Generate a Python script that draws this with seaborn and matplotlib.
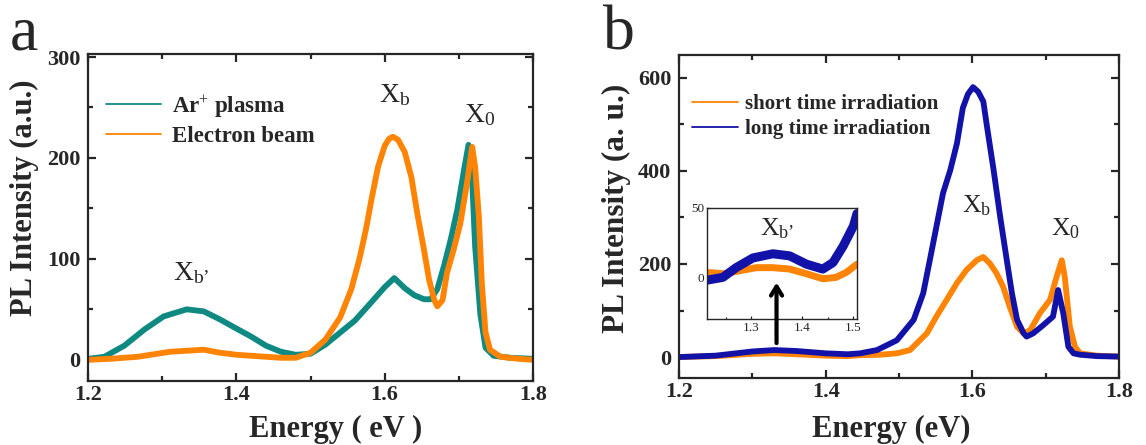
import matplotlib
matplotlib.use("Agg")
import matplotlib.pyplot as plt
import numpy as np
import pandas as pd
import seaborn as sns
from matplotlib.ticker import MultipleLocator, FixedLocator

# ---------------- data ----------------
# Panel a
energy_ar = [1.200, 1.222, 1.249, 1.276, 1.302, 1.333, 1.356, 1.378, 1.40, 1.42, 1.44, 1.46,
             1.48, 1.50, 1.52, 1.54, 1.56, 1.582, 1.60, 1.613, 1.627, 1.64, 1.653, 1.662,
             1.671, 1.680, 1.689, 1.698, 1.707, 1.713, 1.718, 1.722, 1.729, 1.736, 1.747,
             1.77, 1.80]
ar_plasma = [1, 3, 14, 30, 43, 50, 48, 40, 31, 23, 14, 8,
             5, 6, 15, 27, 39, 57, 72, 81, 71, 64, 60, 60,
             70, 93, 119, 149, 188, 213, 178, 112, 45, 12, 4,
             2, 1]
energy_eb = [1.200, 1.230, 1.267, 1.311, 1.356, 1.378, 1.40, 1.42, 1.44, 1.46, 1.48, 1.50,
             1.52, 1.54, 1.555, 1.566, 1.575, 1.582, 1.591, 1.600, 1.606, 1.611, 1.618,
             1.627, 1.636, 1.644, 1.653, 1.660, 1.667, 1.671, 1.678, 1.684, 1.693, 1.702,
             1.711, 1.718, 1.722, 1.727, 1.731, 1.736, 1.742, 1.756, 1.78, 1.80]
electron_beam = [0, 1, 3, 8, 10, 7, 5, 4, 3, 2, 2, 7,
                 20, 42, 70, 100, 130, 158, 191, 212, 219, 221, 218,
                 206, 181, 145, 109, 79, 59, 53, 59, 86, 109, 135,
                 175, 211, 191, 142, 76, 27, 10, 3, 1, 0]

# Panel b
energy_short = [1.20, 1.25, 1.30, 1.33, 1.36, 1.40, 1.43, 1.447, 1.474, 1.497, 1.515, 1.538,
                1.551, 1.565, 1.579, 1.592, 1.606, 1.615, 1.624, 1.633, 1.642, 1.651, 1.661,
                1.670, 1.679, 1.692, 1.706, 1.715, 1.722, 1.726, 1.733, 1.740, 1.747, 1.77, 1.80]
short_irr = [0, 2, 7, 8, 6, 3, 2, 4, 5, 8, 15, 51,
             87, 123, 159, 187, 208, 215, 201, 180, 151, 108, 65,
             51, 58, 94, 123, 173, 208, 173, 65, 22, 8, 3, 1]
energy_long = [1.20, 1.25, 1.30, 1.33, 1.36, 1.40, 1.43, 1.447, 1.470, 1.497, 1.520, 1.533,
               1.542, 1.551, 1.560, 1.570, 1.579, 1.587, 1.594, 1.601, 1.608, 1.615, 1.620,
               1.629, 1.638, 1.647, 1.654, 1.661, 1.670, 1.674, 1.683, 1.697, 1.710, 1.717,
               1.724, 1.731, 1.738, 1.747, 1.77, 1.80]
long_irr = [0, 3, 12, 15, 13, 8, 6, 8, 15, 36, 80, 137,
            208, 280, 352, 402, 459, 535, 565, 580, 570, 549, 495,
            402, 301, 208, 137, 80, 51, 44, 51, 69, 87, 144,
            94, 22, 8, 5, 2, 1]

# Inset of panel b (zoom of the X_b' region)
energy_inset_short = [1.213, 1.244, 1.277, 1.31, 1.342, 1.375, 1.408, 1.44, 1.466, 1.486, 1.507]
inset_short = [3.6, 2.6, 4.8, 7, 7, 6, 2.6, -1, 0, 3.6, 9.5]
energy_inset_long = [1.213, 1.244, 1.27, 1.303, 1.342, 1.375, 1.408, 1.44, 1.46, 1.48,
                     1.50, 1.507]
inset_long = [-2, 0, 7, 14, 17, 15.5, 9.5, 6, 10.7, 22.6, 37, 46]

labels_a = ["Ar$^{+}$ plasma", "Electron beam"]
labels_b = ["short time irradiation", "long time irradiation"]
xtick_vals = [1.2, 1.4, 1.6, 1.8]
ytick_a = [0, 100, 200, 300]
ytick_b = [0, 200, 400, 600]

TEAL = "#0f8a82"
ORANGE = "#ff8405"
BLUE = "#1212a8"

# ---------------- style ----------------
sns.set_style("ticks")
plt.rcParams["font.family"] = ["Liberation Serif", "DejaVu Serif"]
plt.rcParams["mathtext.fontset"] = "custom"
plt.rcParams["mathtext.rm"] = "Liberation Serif"
plt.rcParams["mathtext.it"] = "Liberation Serif:italic"
plt.rcParams["mathtext.bf"] = "Liberation Serif:bold"
plt.rcParams["axes.linewidth"] = 1.6

W, H = 1146, 445
fig = plt.figure(figsize=(W / 100, H / 100), dpi=100)


def fr(x0, y0, x1, y1):
    return [x0 / W, 1 - y1 / H, (x1 - x0) / W, (y1 - y0) / H]


ax_a = fig.add_axes(fr(88, 54, 533, 381))
ax_b = fig.add_axes(fr(679, 55, 1119, 378))
ax_in = fig.add_axes(fr(707, 208, 857, 319))

df_a1 = pd.DataFrame({"E": energy_ar, "I": ar_plasma})
df_a2 = pd.DataFrame({"E": energy_eb, "I": electron_beam})
df_b1 = pd.DataFrame({"E": energy_short, "I": short_irr})
df_b2 = pd.DataFrame({"E": energy_long, "I": long_irr})
df_i1 = pd.DataFrame({"E": energy_inset_short, "I": inset_short})
df_i2 = pd.DataFrame({"E": energy_inset_long, "I": inset_long})

LW = 4.2
line_kw = dict(errorbar=None, solid_joinstyle="round", solid_capstyle="round")
sns.lineplot(data=df_a1, x="E", y="I", ax=ax_a, color=TEAL, lw=LW, label=labels_a[0], **line_kw)
sns.lineplot(data=df_a2, x="E", y="I", ax=ax_a, color=ORANGE, lw=LW, label=labels_a[1], **line_kw)
sns.lineplot(data=df_b1, x="E", y="I", ax=ax_b, color=ORANGE, lw=LW, label=labels_b[0], **line_kw)
sns.lineplot(data=df_b2, x="E", y="I", ax=ax_b, color=BLUE, lw=LW, label=labels_b[1], **line_kw)
sns.lineplot(data=df_i1, x="E", y="I", ax=ax_in, color=ORANGE, lw=5.0, legend=False, **line_kw)
sns.lineplot(data=df_i2, x="E", y="I", ax=ax_in, color=BLUE, lw=6.5, legend=False, **line_kw)

tick_font = dict(family="Liberation Serif", weight="bold", size=16)

for ax, ylim, yt, ymin in [(ax_a, (-21, 303), ytick_a, 50), (ax_b, (-45, 649), ytick_b, 100)]:
    ax.set_xticks(xtick_vals, labels=[f"{v:.1f}" for v in xtick_vals], fontdict=tick_font)
    ax.set_yticks(yt, labels=[str(v) for v in yt], fontdict=tick_font)
    ax.xaxis.set_minor_locator(MultipleLocator(0.1))
    ax.yaxis.set_minor_locator(MultipleLocator(ymin))
    ax.set_xlim(1.2, 1.8)
    ax.set_ylim(*ylim)
    ax.tick_params(which="both", direction="in", top=True, right=True, width=1.6)
    ax.tick_params(which="major", length=6)
    ax.tick_params(which="minor", length=3.5)
    ax.tick_params(axis="x", which="major", pad=3)
    ax.tick_params(axis="y", which="major", pad=5.5)
    for s in ax.spines.values():
        s.set_visible(True)

lab_font = dict(family="Liberation Serif", weight="bold", size=22)
ax_a.set_xlabel("Energy ( eV )", fontdict=lab_font)
ax_a.set_ylabel("PL Intensity (a.u.)", fontdict=lab_font)
ax_b.set_xlabel("Energy (eV)", fontdict=lab_font)
ax_b.set_ylabel("PL Intensity (a. u.)", fontdict=dict(lab_font, size=22.5))
ax_a.xaxis.label.set_va("baseline")
ax_b.xaxis.label.set_va("baseline")
ax_a.xaxis.set_label_coords(0.557, -0.171)
ax_b.xaxis.set_label_coords(0.482, -0.183)
ax_a.yaxis.label.set_va("center")
ax_b.yaxis.label.set_va("center")
ax_a.yaxis.set_label_coords(-0.143, 0.560)
ax_b.yaxis.set_label_coords(-0.143, 0.526)

# inset axes
ax_in.set_xticks([1.3, 1.4, 1.5], labels=["1.3", "1.4", "1.5"])
ax_in.set_yticks([0, 50], labels=["0", "50"])
ax_in.xaxis.set_minor_locator(MultipleLocator(0.05))
ax_in.set_xlim(1.213, 1.507)
ax_in.set_ylim(-30, 50)
ax_in.tick_params(which="both", direction="in", length=2.5, width=0.9, pad=2,
                  labelsize=9.5)
ax_in.tick_params(which="minor", length=1.8)
ax_in.set_xlabel("")
ax_in.set_ylabel("")
for s in ax_in.spines.values():
    s.set_linewidth(1.0)
    s.set_visible(True)

# legends
leg_a = ax_a.legend(loc="upper left", bbox_to_anchor=(106 / W, 1 - 93 / H),
                    bbox_transform=fig.transFigure, frameon=False, borderpad=0,
                    borderaxespad=0, handlelength=2.4, handletextpad=0.5,
                    labelspacing=0.3,
                    prop=dict(family="Liberation Serif", weight="bold", size=16.5))
leg_b = ax_b.legend(loc="upper left", bbox_to_anchor=(692 / W, 1 - 94 / H),
                    bbox_transform=fig.transFigure, frameon=False, borderpad=0,
                    borderaxespad=0, handlelength=2.2, handletextpad=0.35,
                    labelspacing=0.25,
                    prop=dict(family="Liberation Serif", weight="bold", size=15))
for leg in (leg_a, leg_b):
    for h in leg.get_lines():
        h.set_linewidth(1.3)

# peak annotations
ann = dict(family="Liberation Serif", size=20, ha="center", va="baseline")
ax_a.text(1.614, 255, r"X$_\mathrm{b}$", **ann)
ax_a.text(1.728, 236, r"X$_\mathrm{0}$", **ann)
ax_a.text(1.339, 79, r"X$_\mathrm{b’}$", **ann)
ann_b = dict(ann, size=18.5)
ax_b.text(1.606, 310, r"X$_\mathrm{b}$", **ann_b)
ax_b.text(1.727, 262, r"X$_\mathrm{0}$", **ann_b)
ax_in.text(1.351, 30, r"X$_\mathrm{b’}$", **ann_b)

# arrow from the main curve up into the inset (drawn above the inset)
ax_in.annotate("", xy=(1.333, 160), xycoords=ax_b.transData,
               xytext=(1.333, 30), textcoords=ax_b.transData,
               annotation_clip=False,
               arrowprops=dict(arrowstyle="->,head_length=0.65,head_width=0.4",
                               lw=3.0, color="black", shrinkA=0, shrinkB=0))

# panel letters
fig.text(10 / W, 1 - 50 / H, "a", family="Liberation Serif", size=46, va="baseline")
fig.text(603 / W, 1 - 50 / H, "b", family="Liberation Serif", size=46, va="baseline")

fig.savefig("out.png", dpi=100)
